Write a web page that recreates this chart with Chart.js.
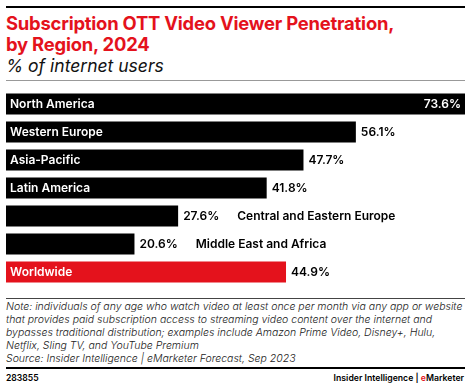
<!DOCTYPE html>
<html>
<head>
<meta charset="utf-8">
<script src="https://cdn.jsdelivr.net/npm/chart.js@4"></script>
<style>
  body { margin: 0; width: 470px; height: 388px; background: #fff; font-family: Inter, "Liberation Sans", sans-serif; position: relative; overflow: hidden; }
  .topline { position: absolute; left: 6px; top: 6px; width: 459px; height: 2px; background: #000; }
  .title { position: absolute; left: 6px; top: 12.5px; color: #e4121c; font-weight: 700; font-size: 18.4px; line-height: 21.3px; letter-spacing: -0.2px; white-space: nowrap; }
  .subtitle { position: absolute; left: 6px; top: 55.3px; font-style: italic; font-size: 17.5px; line-height: 22px; color: #111; }
  .grayline { position: absolute; left: 6px; top: 80px; width: 459px; height: 1px; background: #999; }
  #wrap { position: absolute; left: 0; top: 88px; width: 470px; height: 200px; }
  .noteline { position: absolute; left: 6px; top: 298px; width: 459px; height: 1px; background: #444; }
  .note { position: absolute; left: 6px; top: 300.4px; font-style: italic; font-size: 10.5px; line-height: 13px; color: #222; font-weight: 300; white-space: nowrap; }
  .botline { position: absolute; left: 6px; top: 367px; width: 459px; height: 2px; background: #000; }
  .id { position: absolute; left: 6px; top: 373px; font-size: 8.6px; font-weight: 600; }
  .brand { position: absolute; right: 6px; top: 373px; font-size: 8.7px; font-weight: 600; }
  .brand span { color: #e4121c; }
</style>
</head>
<body>
<div class="topline"></div>
<div class="title">Subscription OTT Video Viewer Penetration,<br>by Region, 2024</div>
<div class="subtitle">% of internet users</div>
<div class="grayline"></div>
<div id="wrap"><canvas id="chart"></canvas></div>
<div class="noteline"></div>
<div class="note">Note: individuals of any age who watch video at least once per month via any app or website<br>that provides paid subscription access to streaming video content over the internet and<br>bypasses traditional distribution; examples include Amazon Prime Video, Disney+, Hulu,<br>Netflix, Sling TV, and YouTube Premium<br>Source: Insider Intelligence | eMarketer Forecast, Sep 2023</div>
<div class="botline"></div>
<div class="id">283855</div>
<div class="brand">Insider Intelligence | <span>e</span>Marketer</div>

<script>
// Chart data
const regions = ['North America', 'Western Europe', 'Asia-Pacific', 'Latin America',
    'Central and Eastern Europe', 'Middle East and Africa', 'Worldwide'];
const penetration = [73.6, 56.1, 47.7, 41.8, 27.6, 20.6, 44.9];
const barColors = ['#000', '#000', '#000', '#000', '#000', '#000', '#e4121c'];

// Draws region names and values on or beside the bars
const barLabels = {
    id: 'barLabels',
    afterDatasetsDraw(chart) {
        const ctx = chart.ctx;
        const meta = chart.getDatasetMeta(0);
        const right = chart.chartArea.right;
        ctx.save();
        ctx.font = '600 12px Inter, sans-serif';
        ctx.textBaseline = 'middle';
        meta.data.forEach((bar, i) => {
            const name = regions[i];
            const value = penetration[i].toFixed(1) + '%';
            const width = bar.x - bar.base;
            const nameW = ctx.measureText(name).width;
            const valueW = ctx.measureText(value).width;
            const y = bar.y + 0.5;

            // value: inside if there's no room outside
            let valueX;
            if (bar.x + 5 + valueW > right) {
                ctx.fillStyle = '#fff';
                ctx.textAlign = 'right';
                ctx.fillText(value, bar.x - 4, y);
                valueX = null;
            } else {
                ctx.fillStyle = '#000';
                ctx.textAlign = 'left';
                ctx.fillText(value, bar.x + 5, y);
                valueX = bar.x + 5 + valueW;
            }

            // name: inside if it fits comfortably, otherwise after the value
            ctx.textAlign = 'left';
            if (nameW + 30 < width) {
                ctx.fillStyle = '#fff';
                ctx.fillText(name, bar.base + 4, y);
            } else {
                ctx.fillStyle = '#000';
                ctx.fillText(name, valueX + 18, y);
            }
        });
        ctx.restore();
    }
};

new Chart(document.getElementById('chart'), {
    type: 'bar',
    data: {
        labels: regions,
        datasets: [{
            data: penetration,
            backgroundColor: barColors,
            borderWidth: 0,
            barPercentage: 0.75,
            categoryPercentage: 1
        }]
    },
    options: {
        indexAxis: 'y',
        responsive: true,
        maintainAspectRatio: false,
        animation: false,
        layout: { padding: { left: 6, right: 5, top: 2, bottom: 2 } },
        plugins: { legend: { display: false }, tooltip: { enabled: false } },
        scales: {
            x: { display: false, min: 0, max: 73.6 },
            y: { display: false }
        }
    },
    plugins: [barLabels]
});
</script>
</body>
</html>
